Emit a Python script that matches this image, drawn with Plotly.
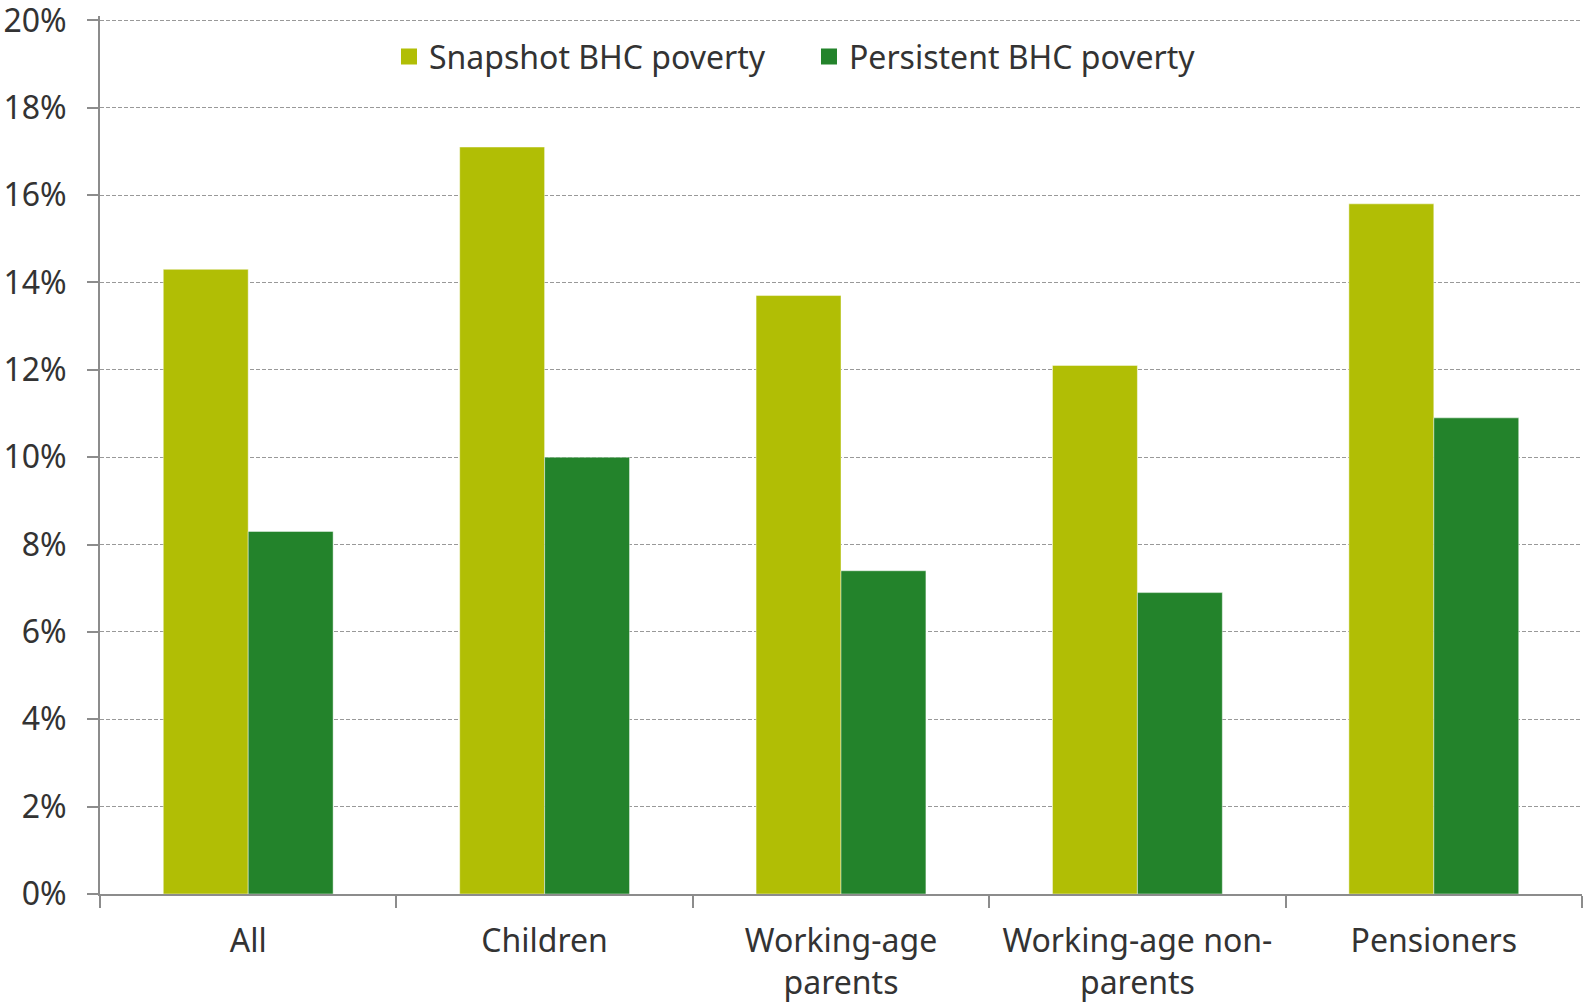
import plotly.graph_objects as go

categories = ["All", "Children", "Working-age<br>parents", "Working-age non-<br>parents", "Pensioners"]
snapshot = [14.3, 17.1, 13.7, 12.1, 15.8]
persistent = [8.3, 10.0, 7.4, 6.9, 10.9]
series_names = ["Snapshot BHC poverty", "Persistent BHC poverty"]
colors = ["#B1BE05", "#23832B"]
yticks = list(range(0, 21, 2))
ytick_labels = [f"{v}%" for v in yticks]

FONT = "Noto Sans"
TXT = "#333333"
FS = 32

fig = go.Figure()
for name, vals, col in zip(series_names, [snapshot, persistent], colors):
    fig.add_trace(go.Bar(
        x=categories, y=vals, name=name, showlegend=False,
        marker=dict(color=col, line=dict(color="rgba(255,255,255,0.45)", width=1)),
    ))
    # legend proxy with larger square swatch
    fig.add_trace(go.Scatter(
        x=[None], y=[None], mode="markers", name=name,
        marker=dict(symbol="square", size=22, color=col),
    ))

fig.update_layout(
    width=1585, height=1003,
    margin=dict(l=100, r=3, t=16, b=109),
    paper_bgcolor="white", plot_bgcolor="white",
    barmode="group", bargap=0.427, bargroupgap=0,
    font=dict(family=FONT, size=FS, color=TXT),
    legend=dict(
        orientation="h", x=0.195, xanchor="left", y=0.985, yanchor="top",
        font=dict(family=FONT, size=FS, color=TXT),
        itemwidth=30, tracegroupgap=0, bgcolor="rgba(0,0,0,0)",
        entrywidth=375, entrywidthmode="pixels",
    ),
    showlegend=True,
)
fig.update_yaxes(
    range=[0, 20.1], tickvals=yticks, ticktext=ytick_labels,
    showgrid=True, gridcolor="#999999", gridwidth=1.3, griddash="4px,2px",
    showline=True, linecolor="#8c8c8c", linewidth=2,
    ticks="outside", ticklen=11, tickcolor="#8c8c8c", tickwidth=2,
    tickfont=dict(family=FONT, size=FS, color=TXT),
    ticklabelstandoff=14, ticklabeloverflow="allow", automargin=False,
    zeroline=False, fixedrange=True,
)
fig.update_xaxes(
    showline=True, linecolor="#8c8c8c", linewidth=2,
    ticks="outside", ticklen=12, tickcolor="#8c8c8c", tickwidth=2,
    tickson="boundaries", showgrid=False,
    tickfont=dict(family=FONT, size=FS, color=TXT),
    ticklabelstandoff=18, automargin=False,
)

fig.write_html("out.html")
